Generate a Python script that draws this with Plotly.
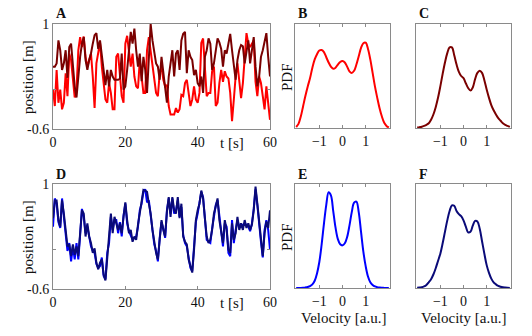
import plotly.graph_objects as go

# time axis for panels A and D (0.5 s steps)
t = [i * 0.5 for i in range(121)]

# panel A: two position traces
pos_red = [0.0, -0.25, 0.3, -0.2, 0.0, -0.3, -0.2, 0.25, -0.1, 0.55,
           0.45, 0.1, -0.12, 0.0, 0.6, 0.8, 0.65, 0.81, 0.5, 0.35,
           0.45, 0.55, 0.2, -0.28, 0.4, 0.6, 0.72, 0.35, 0.1, -0.15,
           -0.2, 0.1, -0.05, -0.3, -0.3, 0.5, 0.55, 0.2, -0.1, -0.2,
           0.7, 0.82, 0.6, 0.35, 0.55, 0.2, 0.05, 0.02, 0.45, 0.15,
           -0.05, -0.05, 0.6, 0.8, 0.6, 0.4, 0.15, -0.05, -0.1, 0.25,
           0.35, 0.15, 0.05, 0.07, -0.25, -0.38, -0.38, -0.38, -0.28, -0.35,
           -0.3, -0.08, -0.1, 0.1, 0.15, -0.1, -0.25, -0.15, 0.05, -0.15,
           -0.2, -0.05, 0.71, 0.78, 0.25, -0.1, -0.05, -0.05, 0.28, 0.35,
           -0.25, -0.2, 0.1, 0.3, 0.12, 0.28, 0.2, 0.17, -0.05, -0.48,
           -0.15, 0.2, 0.4, 0.1, -0.13, 0.1, 0.55, 0.86, 0.7, 0.65,
           0.7, 0.75, 0.12, -0.1, 0.2, 0.1, -0.1, -0.3, 0.05, -0.2,
           -0.46]
pos_darkred = [0.35, 0.35, 0.4, 0.75, 0.6, 0.3, 0.4, 0.6, 0.18, 0.65,
               0.7, 0.4, 0.05, -0.12, 0.2, 0.5, 0.7, 0.8, 0.45, 0.3,
               0.45, 0.55, 0.7, 0.83, 0.86, 0.62, 0.75, 0.5, 0.3, 0.07,
               0.3, 0.05, 0.3, 0.2, 0.15, 0.15, 0.15, 0.17, 0.55, 0.0,
               0.05, 0.3, 0.6, 0.88, 0.7, 0.93, 0.6, 0.35, 0.55, 0.13,
               0.5, 0.3, -0.05, 0.6, 1.0, 0.75, 0.6, 0.4, 0.35, 0.15,
               0.5, 0.25, 0.05, -0.2, 0.2, 0.4, 0.6, 0.2, 0.55, 0.6,
               0.3, 0.75, 0.85, 0.88, 0.25, 0.6, 0.5, 0.45, 0.22, 0.3,
               0.1, 0.05, 0.2, -0.05, 0.5, 0.6, 0.78, 0.7, 0.3, 0.4,
               0.6, 0.78, 0.72, 0.62, 0.35, 0.6, 0.55, 0.7, 0.85, 0.6,
               0.35, 0.15, 0.45, 0.6, 0.68, 0.66, 0.4, 0.6, 0.75, 0.4,
               0.6, 0.8, 0.35, 0.05, 0.2, 0.5, 0.6, 0.75, 0.86, 0.5,
               0.2]

# panel D: two position traces (nearly overlapping)
pos_navy = [0.48, 0.75, 0.75, 0.45, 0.35, 0.75, 0.55, 0.3, 0.05, 0.08,
            -0.1, 0.08, -0.08, 0.05, -0.1, 0.25, 0.6, 0.55, 0.2, 0.4,
            0.2, 0.1, -0.05, 0.02, -0.2, -0.3, -0.2, -0.15, -0.38, -0.47,
            -0.1, 0.15, 0.55, 0.25, 0.5, 0.4, 0.3, 0.4, 0.25, 0.5,
            0.72, 0.45, 0.25, 0.3, 0.12, 0.2, 0.15, 0.38, 0.55, 0.72,
            0.91, 0.9, 0.88, 0.7, 0.55, 0.3, 0.1, -0.05, -0.15, 0.15,
            0.45, 0.3, 0.2, 0.58, 0.8, 0.5, 0.8, 0.6, 0.55, 0.8,
            0.48, 0.7, 0.2, 0.12, 0.08, -0.15, -0.25, -0.35, 0.0, 0.45,
            0.6, 0.7, 0.9, 0.78, 0.48, 0.2, 0.1, 0.15, 0.3, 0.55,
            0.66, 0.78, 0.45, 0.3, 0.1, 0.45, 0.3, 0.0, -0.05, 0.4,
            0.15, 0.25, 0.5, 0.3, 0.4, 0.3, 0.45, 0.33, 0.4, 0.3,
            0.38, 0.6, 0.96, 0.7, 0.4, 0.1, -0.1, 0.25, 0.43, 0.33,
            0.6]
pos_blue = [0.35, 0.78, 0.7, 0.42, 0.33, 0.78, 0.5, 0.25, -0.02, 0.1,
            -0.18, 0.05, -0.15, 0.1, -0.15, 0.22, 0.62, 0.5, 0.25, 0.35,
            0.22, 0.05, -0.02, -0.05, -0.22, -0.28, -0.25, -0.12, -0.4, -0.45,
            -0.05, 0.1, 0.5, 0.3, 0.45, 0.45, 0.25, 0.42, 0.2, 0.52,
            0.7, 0.4, 0.28, 0.22, 0.15, 0.18, 0.2, 0.35, 0.6, 0.7,
            0.88, 0.92, 0.72, 0.75, 0.52, 0.32, 0.08, -0.02, -0.18, 0.18,
            0.42, 0.32, 0.18, 0.6, 0.78, 0.55, 0.78, 0.55, 0.6, 0.75,
            0.5, 0.65, 0.22, 0.1, 0.05, -0.12, -0.28, -0.33, 0.05, 0.42,
            0.55, 0.72, 0.88, 0.8, 0.45, 0.15, 0.12, 0.1, 0.32, 0.5,
            0.68, 0.75, 0.5, 0.25, 0.05, 0.4, 0.35, -0.05, -0.1, 0.45,
            0.1, 0.3, 0.45, 0.35, 0.35, 0.38, 0.4, 0.38, 0.35, 0.28,
            0.4, 0.62, 0.92, 0.68, 0.35, 0.12, -0.12, 0.3, 0.45, 0.3,
            0.0]

# velocity grid and PDFs for B, C, E, F
vel = [round(-2 + 0.1 * i, 1) for i in range(41)]
pdf_b = [0.01, 0.04, 0.11, 0.21, 0.31, 0.40, 0.48, 0.58, 0.66, 0.71,
         0.745, 0.75, 0.73, 0.68, 0.63, 0.59, 0.57, 0.58, 0.61, 0.635,
         0.645, 0.63, 0.59, 0.545, 0.53, 0.55, 0.61, 0.69, 0.77, 0.815,
         0.82, 0.76, 0.66, 0.53, 0.40, 0.29, 0.19, 0.11, 0.05, 0.02,
         0.005]
pdf_c = [0.005, 0.008, 0.012, 0.02, 0.03, 0.045, 0.08, 0.13, 0.2, 0.29,
         0.4, 0.52, 0.63, 0.72, 0.775, 0.775, 0.7, 0.61, 0.54, 0.50,
         0.48, 0.43, 0.385, 0.36, 0.39, 0.47, 0.53, 0.55, 0.53, 0.46,
         0.37, 0.29, 0.22, 0.17, 0.13, 0.095, 0.07, 0.045, 0.03, 0.02,
         0.01]
pdf_e = [0.0, 0.0, 0.001, 0.003, 0.006, 0.01, 0.018, 0.035, 0.07, 0.14,
         0.25, 0.42, 0.62, 0.80, 0.92, 0.89, 0.74, 0.58, 0.47, 0.42,
         0.41, 0.43, 0.49, 0.60, 0.73, 0.82, 0.83, 0.73, 0.54, 0.35,
         0.21, 0.11, 0.055, 0.03, 0.015, 0.008, 0.004, 0.002, 0.001, 0.0,
         0.0]
pdf_f = [0.002, 0.004, 0.007, 0.015, 0.03, 0.055, 0.085, 0.13, 0.19, 0.26,
         0.33, 0.43, 0.54, 0.65, 0.74, 0.795, 0.79, 0.74, 0.71, 0.69,
         0.65, 0.59, 0.535, 0.54, 0.6, 0.645, 0.64, 0.57, 0.45, 0.33,
         0.22, 0.145, 0.09, 0.055, 0.035, 0.02, 0.012, 0.007, 0.004, 0.002,
         0.001]

W, H = 532, 336
RED, DARKRED = "#ff0000", "#7a0000"
BLUE, NAVY = "#0000ff", "#0a0a78"
FRAME = "#8a8a8a"
SERIF = "Liberation Serif"


def px(x):
    return x / W


def py(y):
    return 1 - y / H


fig = go.Figure()

# (name, x-domain px, y-domain px)
panels = {
    "A": ((53, 270), (24, 129)),
    "B": ((295, 390), (24, 128)),
    "C": ((416, 511), (24, 128)),
    "D": ((53, 270), (184, 289)),
    "E": ((295, 390), (184, 288)),
    "F": ((416, 511), (184, 288)),
}
axis_ids = {"A": "", "B": "2", "C": "3", "D": "4", "E": "5", "F": "6"}

traces = [
    ("A", t, pos_red, RED, "linear"),
    ("A", t, pos_darkred, DARKRED, "linear"),
    ("B", vel, pdf_b, RED, "spline"),
    ("C", vel, pdf_c, DARKRED, "spline"),
    ("D", t, pos_blue, BLUE, "linear"),
    ("D", t, pos_navy, NAVY, "linear"),
    ("E", vel, pdf_e, BLUE, "spline"),
    ("F", vel, pdf_f, NAVY, "spline"),
]
for p, xs, ys, col, shape in traces:
    n = axis_ids[p]
    fig.add_trace(go.Scatter(x=xs, y=ys, mode="lines", showlegend=False,
                             line=dict(color=col, width=2, shape=shape),
                             xaxis="x" + n, yaxis="y" + n))

layout = {}
for p, ((x0, x1), (y0, y1)) in panels.items():
    n = axis_ids[p]
    common = dict(showline=True, mirror="allticks", linecolor=FRAME, linewidth=1,
                  showgrid=False, zeroline=False, ticks="inside", ticklen=3,
                  tickcolor=FRAME, automargin=False,
                  tickfont=dict(family=SERIF, size=14, color="#111"))
    if p in ("A", "D"):
        xa = dict(common, domain=[px(x0), px(x1)], range=[0, 60],
                  tickvals=[0, 20, 40, 60])
        ya = dict(common, domain=[py(y1), py(y0)], range=[-0.6, 1],
                  tickvals=[-0.6, 0, 1], ticktext=["-0.6", "", "1"])
    else:
        xa = dict(common, domain=[px(x0), px(x1)], range=[-2.05, 2.05],
                  tickvals=[-1, 0, 1])
        ya = dict(common, domain=[py(y1), py(y0)], range=[0, 1],
                  showticklabels=False, ticks="")
    layout["xaxis" + n] = dict(xa, anchor="y" + n)
    layout["yaxis" + n] = dict(ya, anchor="x" + n)

fig.update_layout(**layout)

ann = []
# panel letters
for p, ((x0, x1), (y0, y1)) in panels.items():
    ann.append(dict(text="<b>%s</b>" % p, x=px(x0 + 1), y=py(y0 - 10),
                    xanchor="left", yanchor="middle", font=dict(size=14)))
# axis labels
for yc in (77, 237):
    ann.append(dict(text="position [m]", x=px(28), y=py(yc), textangle=-90,
                    xanchor="center", yanchor="middle", font=dict(size=15)))
    ann.append(dict(text="PDF", x=px(287), y=py(yc), textangle=-90,
                    xanchor="center", yanchor="middle", font=dict(size=15)))
for yc in (143, 303):
    ann.append(dict(text="t [s]", x=px(232), y=py(yc), xanchor="center",
                    yanchor="middle", font=dict(size=15)))
for xc in (343, 463):
    ann.append(dict(text="Velocity [a.u.]", x=px(xc), y=py(318), xanchor="center",
                    yanchor="middle", font=dict(size=15)))
for a in ann:
    a.update(xref="paper", yref="paper", showarrow=False)
    a["font"].update(family=SERIF, color="#111")

fig.update_layout(width=W, height=H, margin=dict(l=0, r=0, t=0, b=0),
                  paper_bgcolor="white", plot_bgcolor="white", annotations=ann)

fig.write_html("out.html", config={"displayModeBar": False},
               post_script="document.body.style.margin='0px';")
